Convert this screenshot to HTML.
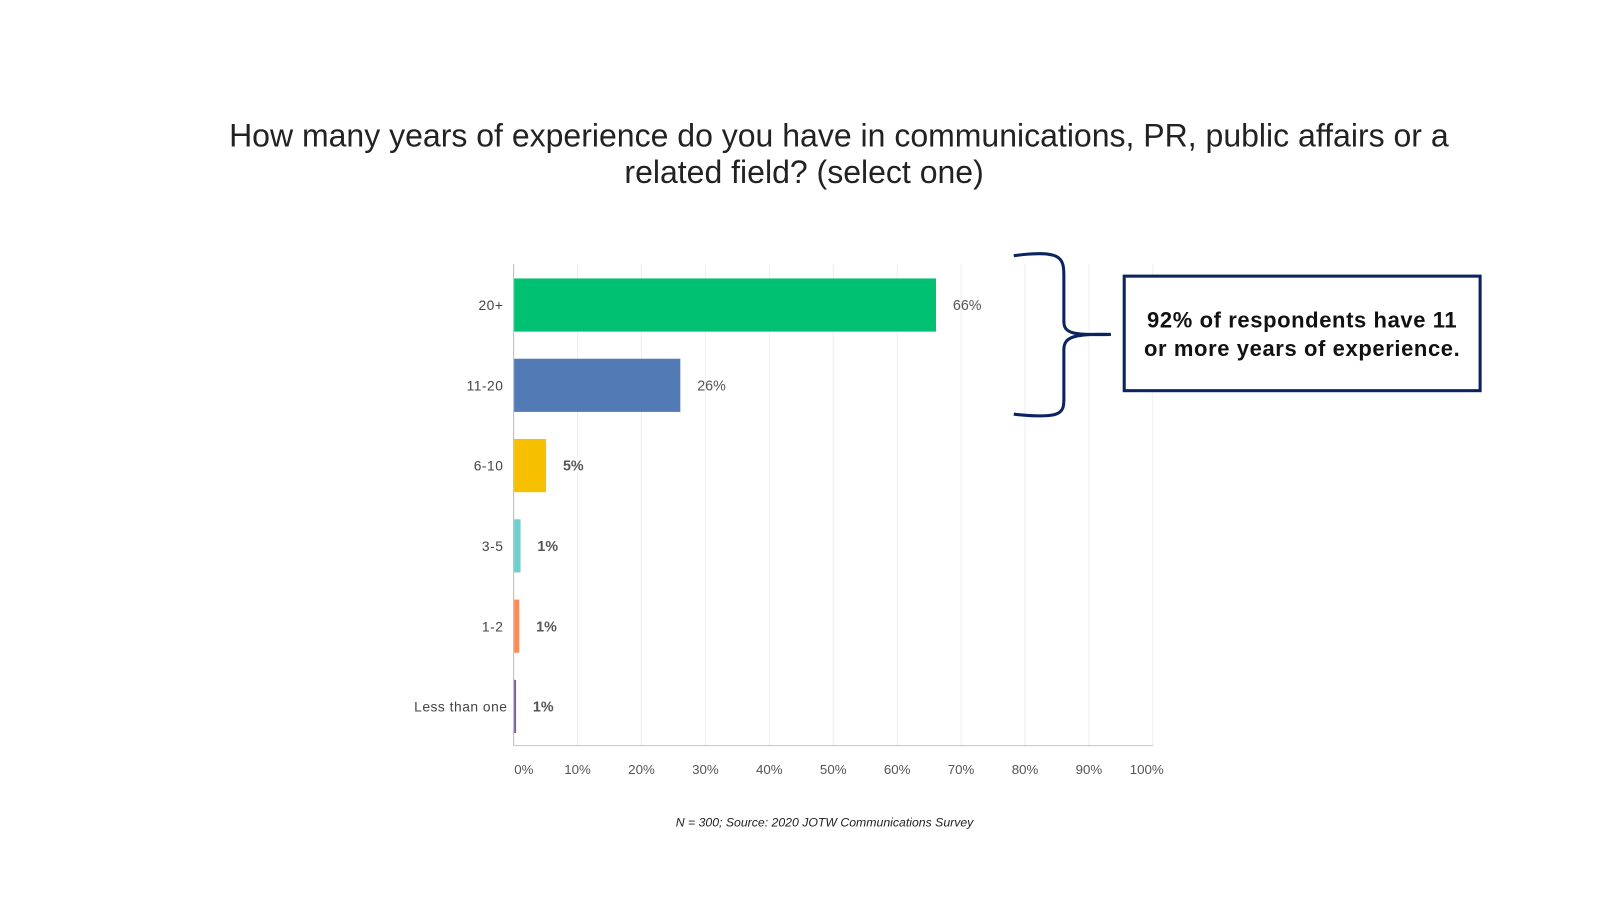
<!DOCTYPE html>
<html><head><meta charset="utf-8"><style>
body{margin:0;background:#fff;width:1600px;height:900px;overflow:hidden;font-family:"Liberation Sans",sans-serif}
</style></head><body>
<svg width="1600" height="900" viewBox="0 0 1564 880">
<text x="820" y="143" text-anchor="middle" font-size="31.3" fill="#222">How many years of experience do you have in communications, PR, public affairs or a</text>
<text x="786" y="179" text-anchor="middle" font-size="31.3" fill="#222">related field? (select one)</text>
<g id="grid"></g><g id="bars"></g>
<path d="M991,250 C1038,244 1040,252 1040,270 L1040,314 C1040,326 1048,328 1086,327 M1086,327 C1048,326 1040,330 1040,342 L1040,390 C1040,404 1038,410 991,405" fill="none" stroke="#0b2461" stroke-width="3"/>
<rect x="1099" y="270" width="348" height="112" fill="#fff" stroke="#0b2461" stroke-width="3"/>
<text x="1273" y="320" text-anchor="middle" font-size="21.5" font-weight="bold" letter-spacing="0.6" fill="#111">92% of respondents have 11</text>
<text x="1273" y="348" text-anchor="middle" font-size="21.5" font-weight="bold" letter-spacing="0.6" fill="#111">or more years of experience.</text>
<text x="806" y="808" text-anchor="middle" font-size="12" font-style="italic" fill="#222">N = 300; Source: 2020 JOTW Communications Survey</text>
</svg>
<script>
const categories=["20+","11-20","6-10","3-5","1-2","Less than one"];
const values=[66,26,5,1,0.8,0.3];
const valueLabels=["66%","26%","5%","1%","1%","1%"];
const colors=["#00c171","#527bb5","#f6bf00","#6ecfcf","#f88d58","#7a5aa0"];
const ticks=[0,10,20,30,40,50,60,70,80,90,100];
const NS="http://www.w3.org/2000/svg";
const X0=502,X1=1127,plotTop=258,plotBottom=729;
const xs=v=>X0+(X1-X0)*v/100;
const band=(plotBottom-plotTop)/categories.length;
function mk(t,a,p){const e=document.createElementNS(NS,t);for(const k in a)e.setAttribute(k,a[k]);p.appendChild(e);return e;}
const g=document.getElementById('grid'),b=document.getElementById('bars');
ticks.forEach((t)=>{
 const l=mk('line',{x1:xs(t),x2:xs(t),y1:plotTop,y2:plotBottom,stroke:t===0?'#bbb':'#eee','stroke-width':1},g);
 
 
 const tx=mk('text',{x:xs(t)+(t===0?10:(t===100?-6:0)),y:757,'text-anchor':'middle','font-size':13,fill:'#555'},g);
 tx.textContent=t+'%';
 
 
});
const ax=mk('line',{x1:X0,x2:X1,y1:plotBottom,y2:plotBottom,stroke:'#ccc'},g);


categories.forEach((c,i)=>{
 const cy=plotTop+band*(i+0.5)+1;
 const r=mk('rect',{x:X0+0.5,y:cy-26,width:Math.max(1.5,xs(values[i])-X0),height:52,fill:colors[i]},b);
 
 
 const cl=mk('text',{x:X0-10+(i===5?4:0),y:cy+5,'text-anchor':'end','font-size':13.5,'letter-spacing':0.5,fill:'#444'},b);
 cl.textContent=c;
 
 
 const vl=mk('text',{x:xs(values[i])+17,y:cy+5,'font-size':14,fill:'#555','font-weight':values[i]<10?'bold':'normal'},b);
 vl.textContent=valueLabels[i];
 
 
});
</script>
</body></html>
